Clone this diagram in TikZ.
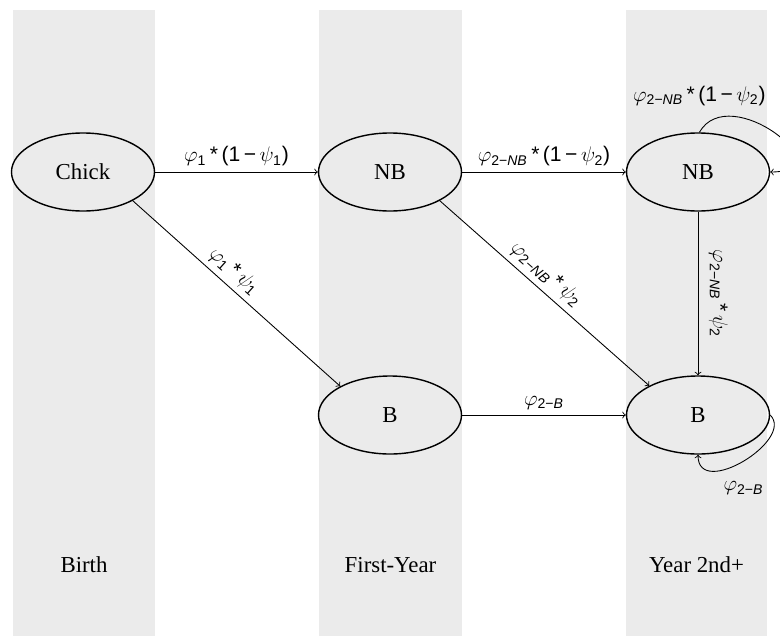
\documentclass[tikz,border=0pt]{standalone}
\usepackage{amsmath}
\usepackage{fontspec}
\setmainfont{Liberation Serif}
\setsansfont{Liberation Sans}
\usetikzlibrary{positioning}
\usetikzlibrary{shapes.geometric, arrows}
\tikzstyle{state} = [ellipse,
draw=black, line width=0.8pt,
minimum width=2.86cm,
minimum height=1.56cm, inner sep=0pt,
font=\fontsize{13}{15}\selectfont]
\tikzstyle{band} = [fill=black!8, draw=none]
\tikzstyle{stage} = [font=\fontsize{13}{15}\selectfont]
\tikzstyle{rate} = [font=\sffamily\fontsize{12}{14}\selectfont, inner sep=3pt]
\tikzstyle{arrow} = [line width=0.5pt,->,>=to]
\begin{document}
\begin{tikzpicture}
\useasboundingbox (0,0) rectangle (15.6,12.72);

% age classes as grey columns
\fill[band] (0.26,0) rectangle (3.10,12.52);
\fill[band] (6.38,0) rectangle (9.24,12.52);
\fill[band] (12.52,0) rectangle (15.34,12.52);

\node[stage] (birth) at (1.68,1.42) {Birth};
\node[stage] (firstyear) at (7.81,1.42) {First-Year};
\node[stage] (yeartwo) at (13.93,1.42) {Year 2nd+};

% states
\node[state] (chick) at (1.66,9.28) {Chick};
\node[state] (nb1) at (7.80,9.28) {NB};
\node[state] (nb2) at (13.96,9.28) {NB};
\node[state] (b1) at (7.80,4.42) {B};
\node[state] (b2) at (13.96,4.42) {B};

% transitions
\draw[arrow] (chick) -- node[rate, above] {\(\varphi_{\textsf{1}}\)\,*\,(1\,−\,\(\psi_{\textsf{1}}\))} (nb1);
\draw[arrow] (chick.-30) -- node[rate, above, sloped, pos=0.44] {\(\varphi_{\textsf{1}}\)\,*\,\(\psi_{\textsf{1}}\)} (b1.150);
\draw[arrow] (nb1) -- node[rate, above] {\(\varphi_{\textsf{2−\itshape NB}}\)\,*\,(1\,−\,\(\psi_{\textsf{2}}\))} (nb2);
\draw[arrow] (nb1.-30) -- node[rate, above, sloped, pos=0.46] {\(\varphi_{\textsf{2−\itshape NB}}\)\,*\,\(\psi_{\textsf{2}}\)} (b2.149);
\draw[arrow] (nb2) -- node[rate, rotate=-90, anchor=south, inner sep=6pt] {\(\varphi_{\textsf{2−\itshape NB}}\)\,*\,\(\psi_{\textsf{2}}\)} (b2);
\draw[arrow] (b1) -- node[rate, above] {\(\varphi_{\textsf{2−\itshape B}}\)} (b2);

% staying in the same class
\draw[arrow] (nb2.88) .. controls +(0.6,1.05) and +(1.5,0) .. node[rate, pos=0, above=0.42cm] {\(\varphi_{\textsf{2−\itshape NB}}\)\,*\,(1\,−\,\(\psi_{\textsf{2}}\))} (nb2.east);
\draw[arrow] (b2.east) .. controls +(0.5,-0.5) and +(0,-0.9) .. node[rate, pos=0.5, below=0.3cm] {\(\varphi_{\textsf{2−\itshape B}}\)} (b2.south);
\end{tikzpicture}
\end{document}
